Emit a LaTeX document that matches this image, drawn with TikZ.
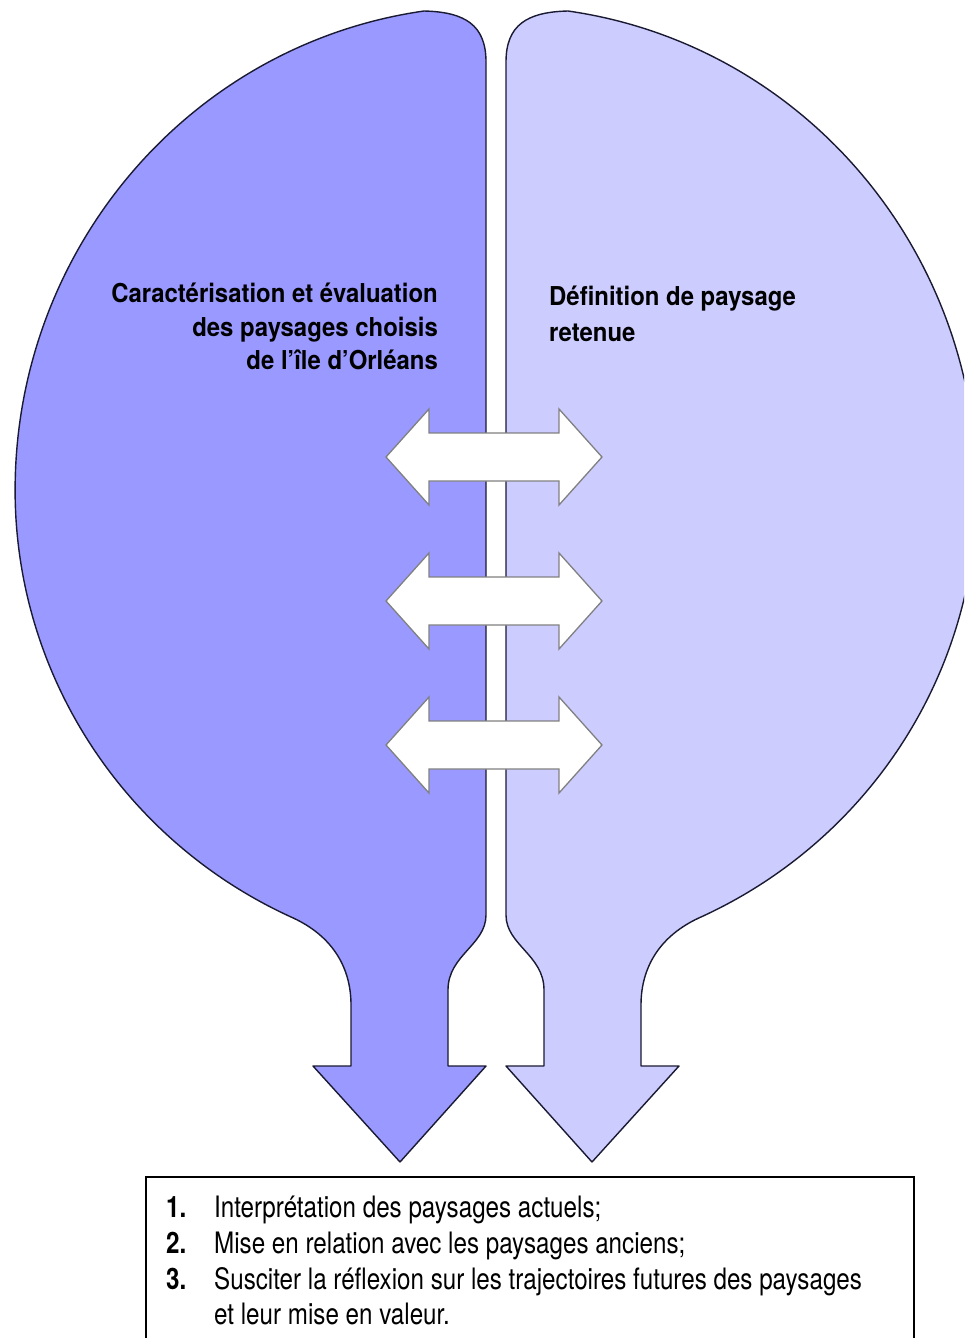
\documentclass[tikz,border=0pt]{standalone}
\usepackage{fontspec}
\setmainfont{TeX Gyre Heros}[FakeStretch=0.82]
\newfontfamily\titlefont{TeX Gyre Heros}[FakeStretch=0.92]
\definecolor{lobeA}{HTML}{9999FF}
\definecolor{lobeB}{HTML}{CCCCFF}
\definecolor{outl}{HTML}{1A1A33}
\definecolor{arrgray}{HTML}{808080}
\newcommand\lobepath{(424,11)
 arc[start angle=262, end angle=180, x radius=475, y radius=484]
 arc[start angle=180, end angle=114.5, x radius=475, y radius=470]
 .. controls (330,935) and (351,965) .. (351,1005) -- (351,1066) -- (313,1066) -- (400,1162)
 -- (486,1066) -- (448,1066) -- (448,990) .. controls (448,955) and (486,945) .. (486,915)
 -- (486,62) .. controls (486,25) and (465,12) .. (424,11) -- cycle}
\tikzset{
 lobe/.style={draw=outl, line width=1.4pt, line join=round},
 dblarrow/.style={draw=arrgray, fill=white, line width=1.3pt, line join=miter},
 titletext/.style={font=\titlefont\fontsize{26}{30}\selectfont\bfseries, inner sep=0pt},
 listtext/.style={font=\fontsize{29.5}{34}\selectfont, inner sep=0pt, anchor=base west},
 listnum/.style={font=\fontsize{29.5}{34}\selectfont\bfseries, inner sep=0pt, anchor=base west}
}
\begin{document}
\begin{tikzpicture}[x=1pt,y=-1pt]
\useasboundingbox (0,0) rectangle (964,1338);
\clip (0,0) rectangle (964,1338);
\fill[white] (0,0) rectangle (964,1338);
% left lobe
\filldraw[lobe, fill=lobeA] \lobepath;
% right lobe (mirror)
\begin{scope}[xshift=992pt, xscale=-1]
\filldraw[lobe, fill=lobeB] \lobepath;
\end{scope}
% double arrows
\foreach \c in {457,601,745}{
 \filldraw[dblarrow] (386,\c) -- (429,\c-48) -- (429,\c-24) -- (559,\c-24) -- (559,\c-48)
  -- (602,\c) -- (559,\c+48) -- (559,\c+24) -- (429,\c+24) -- (429,\c+48) -- cycle;
}
% titles
\node[titletext, anchor=base east] (la) at (438,302) {Caractérisation et évaluation};
\node[titletext, anchor=base east] (lb) at (438,336) {des paysages choisis};
\node[titletext, anchor=base east] (lc) at (438,369) {de l’île d’Orléans};
\node[titletext, anchor=base west] (ra) at (549,305) {Définition de paysage};
\node[titletext, anchor=base west] (rb) at (549,341) {retenue};
% list box
\draw[black, line width=2pt] (146,1177) rectangle (914,1350);
\node[listnum] (n1) at (166,1217) {1.};
\node[listnum] (n2) at (166,1253) {2.};
\node[listnum] (n3) at (166,1289) {3.};
\node[listtext] (i1) at (214,1217) {Interprétation des paysages actuels;};
\node[listtext] (i2) at (214,1253) {Mise en relation avec les paysages anciens;};
\node[listtext] (i3) at (214,1289) {Susciter la réflexion sur les trajectoires futures des paysages};
\node[listtext] (i4) at (214,1324) {et leur mise en valeur.};
\end{tikzpicture}
\end{document}
